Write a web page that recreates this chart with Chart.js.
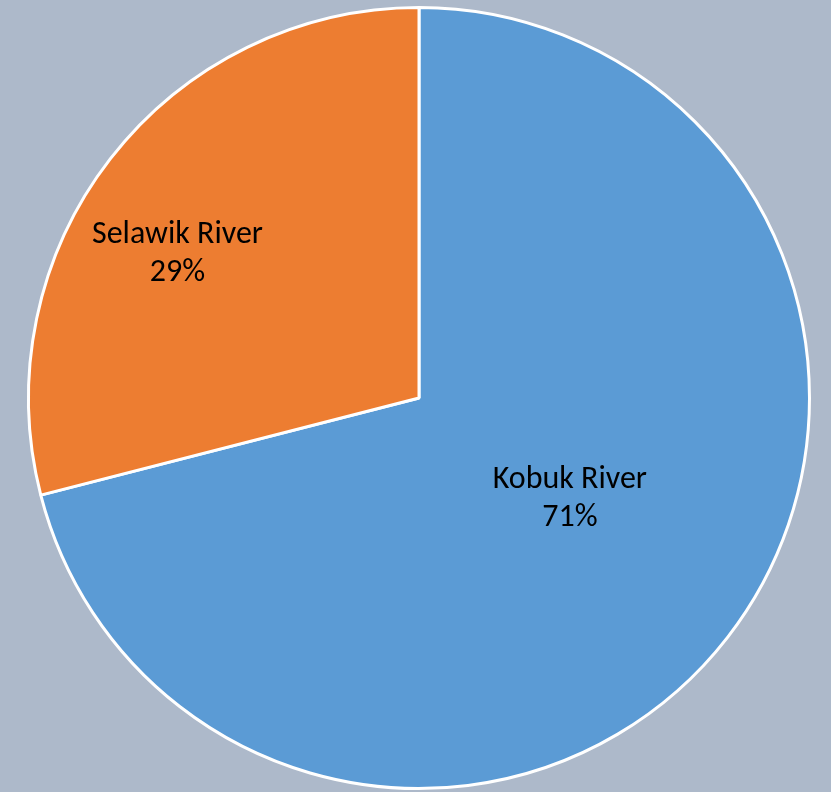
<!DOCTYPE html>
<html>
<head>
<meta charset="utf-8">
<script src="https://cdn.jsdelivr.net/npm/chart.js@4"></script>
<style>
  html, body { margin: 0; padding: 0; background: #ADB9CA; }
  #wrap { width: 831px; height: 792px; }
</style>
</head>
<body>
<div id="wrap"><canvas id="riverChart"></canvas></div>
<script>
// share of fish by river
const rivers = ['Kobuk River', 'Selawik River'];
const shares = [71, 29];
const sliceColors = ['#5B9BD5', '#ED7D31'];
// where each label sits: fraction of radius, angle tweak (degrees)
const labelRadius = [0.465, 0.72];
const labelTurn = [-4, -7];

const ctx = document.getElementById('riverChart');

const pieLabels = {
  id: 'pieLabels',
  afterDatasetsDraw(chart) {
    const c = chart.ctx;
    const meta = chart.getDatasetMeta(0);
    c.save();
    c.fillStyle = '#000';
    c.font = '32px Calibri, Carlito, "Noto Sans", sans-serif';
    c.textAlign = 'center';
    c.textBaseline = 'middle';
    meta.data.forEach((arc, i) => {
      const p = arc.getProps(['x', 'y', 'startAngle', 'endAngle', 'outerRadius'], true);
      const mid = (p.startAngle + p.endAngle) / 2 + labelTurn[i] * Math.PI / 180;
      const r = p.outerRadius * labelRadius[i];
      const x = p.x + Math.cos(mid) * r;
      const y = p.y + Math.sin(mid) * r;
      c.fillText(rivers[i], x, y - 19);
      c.fillText(shares[i] + '%', x, y + 19);
    });
    c.restore();
  }
};

new Chart(ctx, {
  type: 'pie',
  data: {
    labels: rivers,
    datasets: [{
      data: shares,
      backgroundColor: sliceColors,
      borderColor: '#FFFFFF',
      borderWidth: 3
    }]
  },
  options: {
    responsive: true,
    maintainAspectRatio: false,
    animation: false,
    layout: { padding: { left: 27, right: 20, top: 6, bottom: 2 } },
    plugins: {
      legend: { display: false },
      tooltip: { enabled: false }
    }
  },
  plugins: [pieLabels]
});
</script>
</body>
</html>
